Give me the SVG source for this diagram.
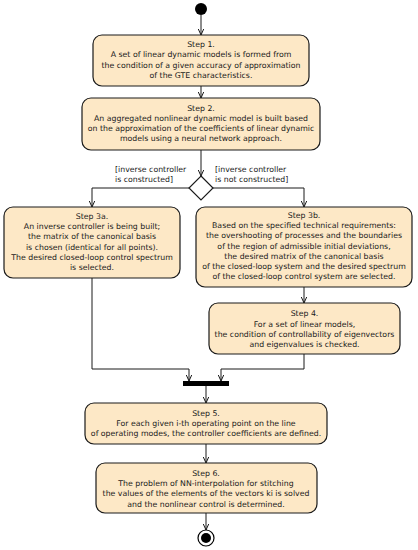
<svg xmlns="http://www.w3.org/2000/svg" width="418" height="550" viewBox="0 0 418 550">
<style>
.box{fill:#fde8c6;stroke:#1a1a1a;stroke-width:1.2}
text{font-family:"DejaVu Sans",sans-serif;font-size:7.8px;fill:#1a1a1a}
.c{text-anchor:middle}
.ln{fill:none;stroke:#1a1a1a;stroke-width:1}
</style>
<defs>
<marker id="ah" viewBox="0 0 6 6" refX="6" refY="3" markerWidth="6" markerHeight="6" markerUnits="userSpaceOnUse" orient="auto">
<path d="M0,0.3 L6,3 L0,5.7" fill="none" stroke="#1a1a1a" stroke-width="1"/>
</marker>
</defs>
<g id="connectors">
<path class="ln" d="M201,15 V35" marker-end="url(#ah)"/>
<path class="ln" d="M201,86 V98" marker-end="url(#ah)"/>
<path class="ln" d="M201,150 V176" marker-end="url(#ah)"/>
<path class="ln" d="M189,188 H92 V207" marker-end="url(#ah)"/>
<path class="ln" d="M213,188 H304 V207" marker-end="url(#ah)"/>
<path class="ln" d="M304,287 V303" marker-end="url(#ah)"/>
<path class="ln" d="M92,278 V369 H189 V381" marker-end="url(#ah)"/>
<path class="ln" d="M304,354 V369 H221 V381" marker-end="url(#ah)"/>
<path class="ln" d="M206,386 V403" marker-end="url(#ah)"/>
<path class="ln" d="M206,444 V463" marker-end="url(#ah)"/>
<path class="ln" d="M206,513 V530" marker-end="url(#ah)"/>
<text x="115" y="172">[inverse controller</text>
<text x="115" y="182">is constructed]</text>
<text x="215" y="172">[inverse controller</text>
<text x="215" y="182">is not constructed]</text>
</g>
<g id="start"><circle cx="201" cy="9" r="6" fill="#000"/></g>
<g id="step1">
<rect class="box" x="93" y="35" width="216" height="51" rx="9"/>
<text class="c" x="201" y="47">Step 1.</text>
<text class="c" x="201" y="57.3">A set of linear dynamic models is formed from</text>
<text class="c" x="201" y="67.6">the condition of a given accuracy of approximation</text>
<text class="c" x="201" y="77.9">of the GTE characteristics.</text>
</g>
<g id="step2">
<rect class="box" x="82" y="98" width="238" height="52" rx="9"/>
<text class="c" x="201" y="110.5">Step 2.</text>
<text class="c" x="201" y="120.8">An aggregated nonlinear dynamic model is built based</text>
<text class="c" x="201" y="131.1">on the approximation of the coefficients of linear dynamic</text>
<text class="c" x="201" y="141.4">models using a neural network approach.</text>
</g>
<g id="decision"><path d="M201,176 L213,188 L201,200 L189,188 Z" fill="#fff" stroke="#1a1a1a" stroke-width="1.2"/></g>
<g id="step3a">
<rect class="box" x="4" y="207" width="176" height="71" rx="9"/>
<text class="c" x="92" y="218.8">Step 3a.</text>
<text class="c" x="92" y="229.1">An inverse controller is being built;</text>
<text class="c" x="92" y="239.4">the matrix of the canonical basis</text>
<text class="c" x="92" y="249.7">is chosen (identical for all points).</text>
<text class="c" x="92" y="260">The desired closed-loop control spectrum</text>
<text class="c" x="92" y="270.3">is selected.</text>
</g>
<g id="step3b">
<rect class="box" x="196" y="207" width="216" height="80" rx="9"/>
<text class="c" x="304" y="218">Step 3b.</text>
<text class="c" x="304" y="228.2">Based on the specified technical requirements:</text>
<text class="c" x="304" y="238.4">the overshooting of processes and the boundaries</text>
<text class="c" x="304" y="248.6">of the region of admissible initial deviations,</text>
<text class="c" x="304" y="258.8">the desired matrix of the canonical basis</text>
<text class="c" x="304" y="269">of the closed-loop system and the desired spectrum</text>
<text class="c" x="304" y="279.2">of the closed-loop control system are selected.</text>
</g>
<g id="step4">
<rect class="box" x="209" y="303" width="191" height="51" rx="9"/>
<text class="c" x="304.5" y="316.3">Step 4.</text>
<text class="c" x="304.5" y="326.6">For a set of linear models,</text>
<text class="c" x="304.5" y="336.9">the condition of controllability of eigenvectors</text>
<text class="c" x="304.5" y="347.2">and eigenvalues is checked.</text>
</g>
<g id="join"><rect x="183" y="381" width="46" height="5" fill="#000"/></g>
<g id="step5">
<rect class="box" x="85" y="403" width="242" height="41" rx="9"/>
<text class="c" x="206" y="415.8">Step 5.</text>
<text class="c" x="206" y="426.1">For each given i-th operating point on the line</text>
<text class="c" x="206" y="436.4">of operating modes, the controller coefficients are defined.</text>
</g>
<g id="step6">
<rect class="box" x="96" y="463" width="221" height="50" rx="9"/>
<text class="c" x="206" y="475.8">Step 6.</text>
<text class="c" x="206" y="486.1">The problem of NN-interpolation for stitching</text>
<text class="c" x="206" y="496.4">the values of the elements of the vectors ki is solved</text>
<text class="c" x="206" y="506.7">and the nonlinear control is determined.</text>
</g>
<g id="end">
<circle cx="206" cy="538" r="8" fill="#fff" stroke="#000" stroke-width="1.2"/>
<circle cx="206" cy="538" r="5" fill="#000"/>
</g>
</svg>
